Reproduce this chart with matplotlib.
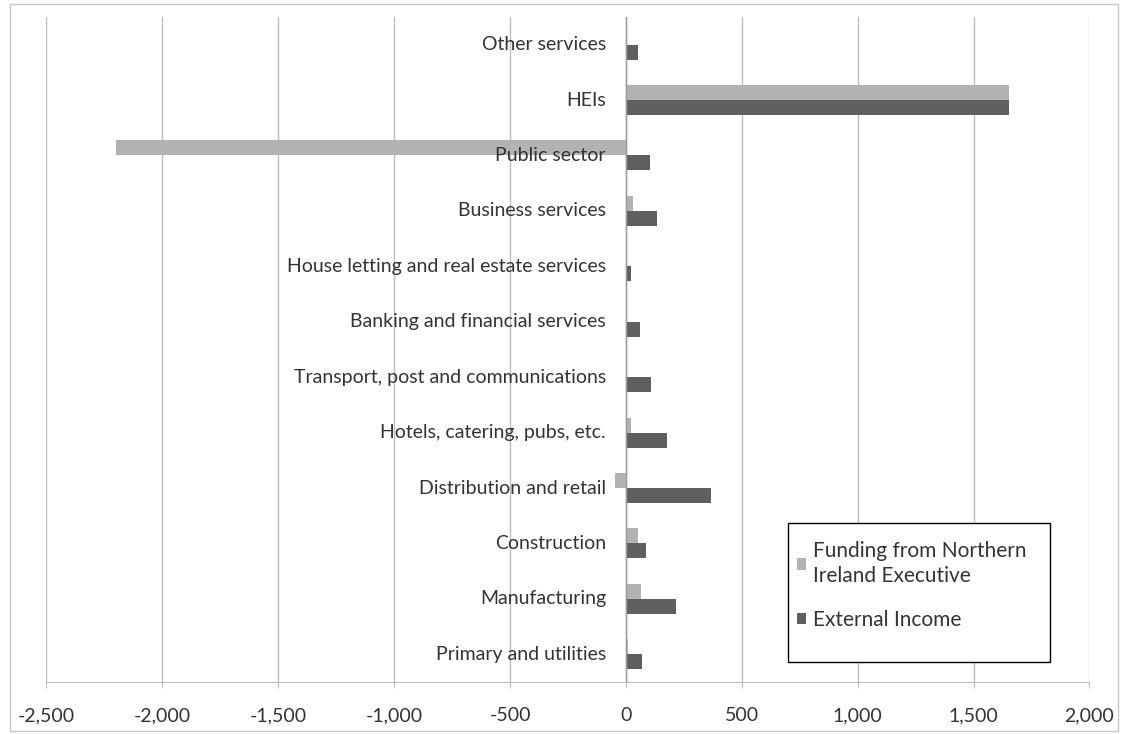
import matplotlib.pyplot as plt
from matplotlib.patches import Rectangle
import numpy as np

plt.rcParams['font.family'] = ['Lato', 'DejaVu Sans']

# categories listed bottom to top
sectors = ['Primary and utilities', 'Manufacturing', 'Construction',
           'Distribution and retail', 'Hotels, catering, pubs, etc.',
           'Transport, post and communications', 'Banking and financial services',
           'House letting and real estate services', 'Business services',
           'Public sector', 'HEIs', 'Other services']
funding_nie = [9, 63, 52, -47, 20, 2, 3, 2, 31, -2200, 1655, 2]
external_income = [68, 217, 86, 366, 178, 110, 59, 20, 134, 106, 1655, 54]
xticks = [-2500, -2000, -1500, -1000, -500, 0, 500, 1000, 1500, 2000]

light = '#b2b2b2'
dark = '#5f5f5f'
grid = '#bdbdbd'
txt = '#333333'

fig = plt.figure(figsize=(11.22, 7.34), dpi=100)
ax = fig.add_axes([0.0414, 0.0708, 0.9296, 0.9062])

y = np.arange(len(sectors))
h = 0.27
ax.barh(y + h / 2, funding_nie, height=h, color=light, zorder=2,
        label='Funding from Northern\nIreland Executive')
ax.barh(y - h / 2, external_income, height=h, color=dark, zorder=2,
        label='External Income')

ax.set_xlim(-2500, 2000)
ax.set_ylim(-0.5, len(sectors) - 0.5)
ax.set_xticks(xticks)
ax.set_xticklabels([f'{v:,}' for v in xticks], fontsize=14, color=txt)
ax.tick_params(axis='x', length=4, color=grid, pad=14)
ax.set_yticks([])
ax.xaxis.grid(True, color=grid, linewidth=1, zorder=0)
ax.axvline(0, color='#999999', linewidth=1, zorder=3)

for s in ['top', 'left', 'right']:
    ax.spines[s].set_visible(False)
ax.spines['bottom'].set_color(grid)

# category labels sit just left of the zero axis
for yi, name in zip(y, sectors):
    ax.annotate(name, xy=(0, yi), xytext=(-20, 0), textcoords='offset pixels',
                ha='right', va='center', fontsize=14, color=txt, zorder=5)

# legend box drawn separately, entries placed inside it
ax.add_patch(Rectangle((0.711, 0.030), 0.251, 0.209, transform=ax.transAxes,
                       fill=True, facecolor='white', edgecolor='black',
                       linewidth=1, zorder=6))
leg = ax.legend(loc='upper left', bbox_to_anchor=(0.7196, 0.212),
                fontsize=15, frameon=False,
                handlelength=0.45, handleheight=0.45, handletextpad=0.3,
                borderpad=0, labelspacing=1.15, borderaxespad=0)
leg.set_zorder(7)
for t in leg.get_texts():
    t.set_color(txt)
    t.set_linespacing(1.3)

fig.patches.append(Rectangle((0.009, 0.004), 0.987, 0.99, transform=fig.transFigure,
                             fill=False, edgecolor='#c8c8c8', linewidth=1))

fig.savefig('out.png', dpi=100)
